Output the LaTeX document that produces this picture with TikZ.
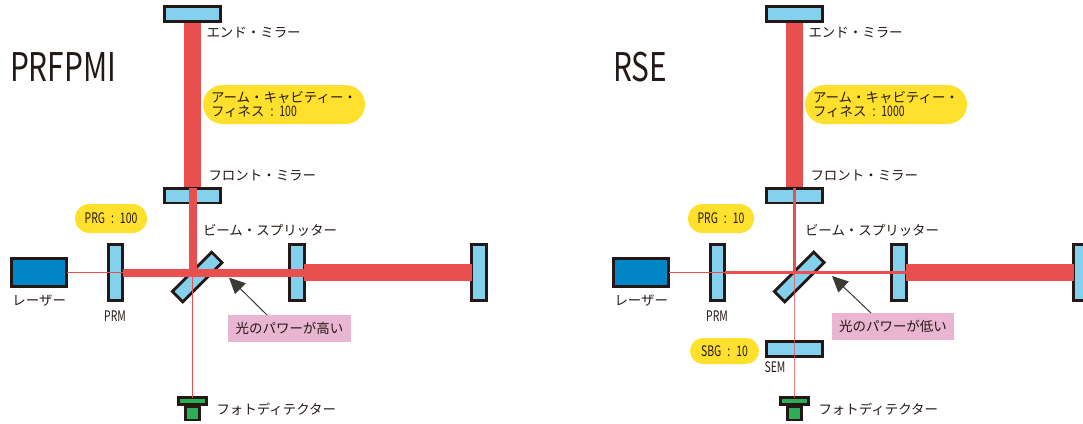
\documentclass[tikz,border=0pt]{standalone}
\usepackage{fontspec}
\setmainfont{Noto Sans CJK JP}
\newfontfamily\latn[FakeStretch=0.72]{Noto Sans CJK JP}
\newfontfamily\ttl[FakeStretch=0.755]{Noto Sans CJK JP}
\usetikzlibrary{arrows.meta}
\definecolor{ink}{HTML}{231815}
\definecolor{beamred}{HTML}{EA4F50}
\definecolor{glass}{HTML}{84D1EE}
\definecolor{laserblue}{HTML}{0085C7}
\definecolor{detgreen}{HTML}{2BAE55}
\definecolor{pill}{HTML}{FFE12D}
\definecolor{note}{HTML}{E9B5D0}
\definecolor{arrowink}{HTML}{3A3A32}
\newcommand{\sep}{\hspace{6pt}:\hspace{6pt}}
\tikzset{
  x=1pt,y=-1pt,
  every node/.style={inner sep=0pt,outer sep=0pt,text=ink,font=\fontsize{13.45}{14}\selectfont},
  mirrorH/.style={draw=ink,line width=2.8pt,fill=glass,minimum width=55.6pt,minimum height=14.6pt},
  mirrorV/.style={draw=ink,line width=2.8pt,fill=glass,minimum width=14.6pt,minimum height=55.6pt},
  box/.style={draw=ink,line width=2.8pt},
  beam/.style={draw=beamred},
  yellowpill/.style={fill=pill,rectangle,rounded corners=#1},
  notebox/.style={fill=note,minimum width=123pt,minimum height=27pt},
  pointer/.style={draw=arrowink,line width=1pt,-{Triangle[length=16pt,width=15pt]}},
  lab/.style={anchor=west},
  small/.style={font=\latn\fontsize{14.5}{15}\selectfont},
  bigtitle/.style={font=\ttl\fontsize{39.5}{40}\selectfont,anchor=west},
}
\newcommand{\interfero}[2]{%
  % #1 width of the medium beam, #2 opacity of the lower thin beam
  \coordinate (x) at (192.5,272.5);
  \node[mirrorH,draw=none,fill=none] (endp) at (192.5,14) {};
  \node[mirrorH,draw=none,fill=none] (frontp) at (192.5,195.7) {};
  \draw[beam,line width=17.5pt] (endp.center) -- (frontp.center);
  \node[mirrorH] (end) at (192.5,14) {};
  \node[mirrorH] (front) at (192.5,195.7) {};
  \node[mirrorV] (prm) at (115.5,272.5) {};
  \node[mirrorV] (im) at (297,272.5) {};
  \node[mirrorV] (far) at (479,272.5) {};
  \node[mirrorH,rotate=45] (bs) at (197.2,277) {};
  \node[box,fill=laserblue,minimum width=55.2pt,minimum height=28.2pt] (laser) at (39,272.5) {};
  \node[box,fill=detgreen,minimum width=14.2pt,minimum height=13pt] (stem) at (192.5,413.5) {};
  \node[box,fill=detgreen,minimum width=28.2pt,minimum height=6.6pt] (det) at (192.5,401) {};
  \draw[beam,line width=1pt] (laser.east) -- (prm.east);
  \draw[beam,line width=#1] (front.north) -- (x);
  \draw[beam,line width=#1] (prm.east) -- (im.east);
  \draw[beam,line width=17.5pt] (im.east) -- (far.west);
  \draw[beam,line width=1pt,opacity=#2] (x) -- (det.north);
  \node[lab] (t1) at (206.5,33) {エンド・ミラー};
  \node[lab] (t2) at (208.5,176) {フロント・ミラー};
  \node[lab] (t3) at (203,230) {ビーム・スプリッター};
  \node[lab] (t4) at (216.5,409.5) {フォトディテクター};
  \node[lab] (t5) at (12.5,301) {レーザー};
  \node[small] (t6) at (115,316.5) {PRM};
}
\begin{document}
\begin{tikzpicture}
\clip (0,0) rectangle (1083,423);
\begin{scope}[name prefix=L-]
  \interfero{8pt}{1}
  \node[yellowpill=19.5pt,minimum width=162pt,minimum height=39pt,text width=146pt,align=left] (arm) at (284,104.5)
    {アーム・キャビティー・\\フィネス{\latn\fontsize{14.5}{14}\selectfont\sep 100}};
  \node[yellowpill=14.5pt,minimum width=72pt,minimum height=29pt,small] (prg) at (111,218.5) {PRG\sep 100};
  \node[notebox] (note) at (289.5,328.5) {光のパワーが高い};
  \draw[pointer] (note.north west) ++(39,0) coordinate (ps) -- (229,277.5);
  \node[bigtitle] (title) at (10,67) {PRFPMI};
\end{scope}
\begin{scope}[xshift=602pt,name prefix=R-]
  \node[mirrorH] (sem) at (192.5,349) {};
  \interfero{3pt}{0.75}
  \node[yellowpill=19.5pt,minimum width=162pt,minimum height=39pt,text width=146pt,align=left] (arm) at (284,104.5)
    {アーム・キャビティー・\\フィネス{\latn\fontsize{14.5}{14}\selectfont\sep 1000}};
  \node[yellowpill=14.5pt,minimum width=66pt,minimum height=29pt,small] (prg) at (119,218.5) {PRG\sep 10};
  \node[yellowpill=13pt,minimum width=69pt,minimum height=26pt,small] (sbg) at (122.5,351) {SBG\sep 10};
  \node[notebox,minimum width=122pt] (note) at (291,326.5) {光のパワーが低い};
  \draw[pointer] (note.north west) ++(39,0) coordinate (ps) -- (230,276);
  \node[small] (semt) at (173,367) {SEM};
  \node[bigtitle] (title) at (11,67) {RSE};
\end{scope}
\end{tikzpicture}
\end{document}
